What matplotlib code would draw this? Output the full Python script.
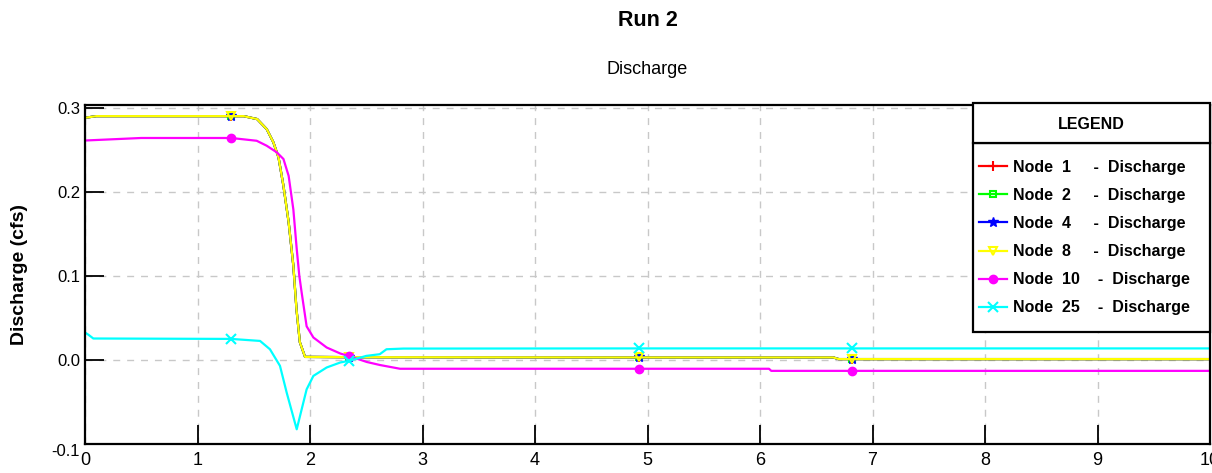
import numpy as np
import matplotlib
matplotlib.use("Agg")
import matplotlib.pyplot as plt
from matplotlib import font_manager
from matplotlib.patches import Rectangle

# ---------------- data ----------------
marker_times = [1.3, 2.35, 4.92, 6.82]

t_node8 = [0, 0.1, 1.3, 1.41, 1.53, 1.615, 1.674, 1.72, 1.764, 1.81, 1.852, 1.88,
           1.91, 1.956, 2.35, 4.92, 6.65, 6.7, 6.82, 10]
q_node8 = [0.288, 0.290, 0.290, 0.290, 0.2865, 0.2746, 0.259, 0.241, 0.207, 0.164,
           0.112, 0.06, 0.021, 0.0036, 0.0033, 0.003, 0.003, 0.001, 0.001, 0.001]
# Nodes 1, 2 and 4 coincide with node 8 (hidden beneath it)
t_node1, q_node1 = list(t_node8), list(q_node8)
t_node2, q_node2 = list(t_node8), list(q_node8)
t_node4, q_node4 = list(t_node8), list(q_node8)

t_node10 = [0, 0.5, 1.3, 1.526, 1.615, 1.704, 1.764, 1.81, 1.852, 1.882, 1.905, 1.926,
            1.97, 2.03, 2.148, 2.27, 2.35, 2.504, 2.62, 2.8, 4.92, 6.08, 6.1, 6.82, 10]
q_node10 = [0.261, 0.264, 0.264, 0.2607, 0.2548, 0.247, 0.239, 0.219, 0.179, 0.132,
            0.100, 0.080, 0.040, 0.0267, 0.0148, 0.0076, 0.0045, -0.0024, -0.006,
            -0.0105, -0.0105, -0.0105, -0.013, -0.013, -0.013]

t_node25 = [0, 0.03, 0.074, 1.3, 1.556, 1.644, 1.733, 1.793, 1.882, 1.926, 1.97, 2.03,
            2.148, 2.27, 2.35, 2.5, 2.62, 2.68, 2.83, 4.92, 6.82, 10]
q_node25 = [0.0326, 0.030, 0.0255, 0.0250, 0.0226, 0.0127, -0.007, -0.039, -0.0825,
            -0.0587, -0.035, -0.019, -0.009, -0.003, -0.001, 0.0048, 0.0068, 0.0127,
            0.0135, 0.0137, 0.0137, 0.0137]

labels = ["Node  1     -  Discharge", "Node  2     -  Discharge",
          "Node  4     -  Discharge", "Node  8     -  Discharge",
          "Node  10    -  Discharge", "Node  25    -  Discharge"]
x_ticks = [0, 1, 2, 3, 4, 5, 6, 7, 8, 9, 10]
y_ticks = [-0.1, 0.0, 0.1, 0.2, 0.3]
y_ticklabels = ["-0.1", "0.0", "0.1", "0.2", "0.3"]

# ---------------- style ----------------
names = {f.name for f in font_manager.fontManager.ttflist}
narrow = "Liberation Sans Narrow" if "Liberation Sans Narrow" in names else "Liberation Sans"
plt.rcParams["font.family"] = ["Liberation Sans", "DejaVu Sans"]

W, H = 1212, 473
fig = plt.figure(figsize=(W / 100, H / 100), dpi=100)
fig.patch.set_facecolor("white")
ax = fig.add_axes([85 / W, 1 - 444 / H, (1210 - 85) / W, (444 - 104.7) / H])

series = [
    (t_node1, q_node1, "#ff0000", "+", dict(markersize=7, mew=1.5)),
    (t_node2, q_node2, "#00ff00", "s", dict(markersize=5, mfc="none", mew=1.5)),
    (t_node4, q_node4, "#0000ff", "*", dict(markersize=7)),
    (t_node8, q_node8, "#ffff00", "v", dict(markersize=6, mfc="none", mew=1.5)),
    (t_node10, q_node10, "#ff00ff", "o", dict(markersize=6)),
    (t_node25, q_node25, "#00ffff", "x", dict(markersize=7, mew=1.5)),
]
handles = []
for (t, q, c, m, kw), lab in zip(series, labels):
    idx = [i for i, v in enumerate(t) if v in marker_times]
    h, = ax.plot(t, q, color=c, lw=1.6, marker=m, markevery=idx, label=lab, **kw)
    handles.append(h)

ax.set_xlim(0, 10)
ax.set_ylim(-0.1, 0.3036)
ax.set_xticks(x_ticks)
ax.set_yticks(y_ticks)
ax.set_yticklabels(y_ticklabels)
ax.tick_params(direction="in", length=14, width=1.3, color="black")
ax.tick_params(axis="x", pad=6)
for lab in ax.get_xticklabels():
    lab.set_fontfamily(narrow)
    lab.set_fontsize(13)
for lab in ax.get_yticklabels():
    lab.set_fontfamily(narrow)
    lab.set_fontsize(12)
ax.get_yticklabels()[0].set_verticalalignment("top")

ax.grid(True, color="#c8c8c8", linestyle=(0, (5, 5)), linewidth=1)
ax.set_axisbelow(True)
for s in ax.spines.values():
    s.set_linewidth(1.6)
    s.set_color("black")

ax.set_ylabel("Discharge (cfs)", fontsize=14, fontweight="bold", labelpad=17)

cx = (85 + 1210) / 2 / W
fig.text(cx, 1 - 20 / H, "Run 2", ha="center", va="center", fontsize=15.5, fontweight="bold")
fig.text(cx, 1 - 70 / H, "Discharge", ha="center", va="center", fontsize=13)

# legend: frame box, header box, and entries
lx0, lx1 = 973 / W, 1210 / W
frame = Rectangle((lx0, 1 - 332 / H), lx1 - lx0, (332 - 143) / H, transform=fig.transFigure,
                  facecolor="white", edgecolor="black", linewidth=1.6, zorder=9)
fig.patches.append(frame)
hdr = Rectangle((lx0, 1 - 143 / H), lx1 - lx0, 40 / H, transform=fig.transFigure,
                facecolor="white", edgecolor="black", linewidth=1.6, zorder=11)
fig.patches.append(hdr)
fig.text((lx0 + lx1) / 2, 1 - 124 / H, "LEGEND", ha="center", va="center",
         fontsize=11.5, fontweight="bold", zorder=12)

leg = fig.legend(handles=handles, loc="upper left",
                 bbox_to_anchor=(lx0, 1 - 153.5 / H, lx1 - lx0, 0),
                 bbox_transform=fig.transFigure, mode="expand", borderaxespad=0,
                 frameon=False,
                 prop=dict(family="Liberation Sans", weight="bold", size=11.5),
                 handlelength=1.7, handletextpad=0.4, labelspacing=0.82, borderpad=0.4)
leg.set_zorder(12)

fig.savefig("out.png", dpi=100)
